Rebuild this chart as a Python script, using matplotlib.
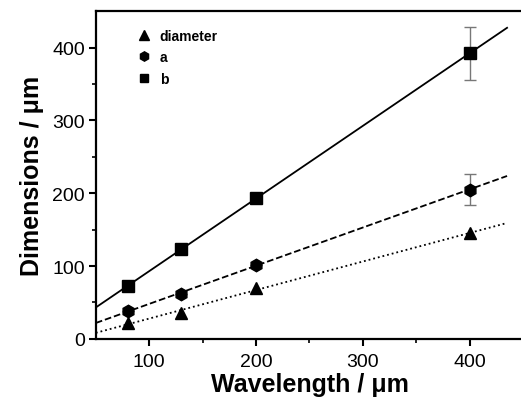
import numpy as np
import matplotlib.pyplot as plt

plt.rcParams['font.family'] = ['Liberation Sans', 'DejaVu Sans']

# data
wavelength = [80, 130, 200, 400]
diameter = [22, 35, 70, 145]
a_vals = [38, 62, 102, 205]
b_vals = [72, 124, 193, 392]
a_err = [0, 0, 0, 21]
b_err = [0, 0, 0, 36]

fig = plt.figure(figsize=(5.21, 4.06), dpi=100)
ax = fig.add_axes([0.184, 0.163, 0.82, 0.807])

# linear fits drawn from 50 to 435
xf = np.array([50, 435])
for y, ls in [(diameter, ':'), (a_vals, '--'), (b_vals, '-')]:
    k, c = np.polyfit(wavelength, y, 1)
    ax.plot(xf, k * xf + c, color='black', ls=ls, lw=1.3)

ax.errorbar(wavelength, a_vals, yerr=a_err, fmt='none', ecolor='#777777', elinewidth=1, capsize=4)
ax.errorbar(wavelength, b_vals, yerr=b_err, fmt='none', ecolor='#777777', elinewidth=1, capsize=4)

ax.plot(wavelength, diameter, '^', color='black', ms=9, ls='none', label='diameter')
ax.plot(wavelength, a_vals, 'h', color='black', ms=9, ls='none', label='a')
ax.plot(wavelength, b_vals, 's', color='black', ms=8, ls='none', label='b')

ax.set_xlim(50, 450)
ax.set_ylim(0, 450)
ax.set_xticks([100, 200, 300, 400])
ax.set_xticks([150, 250, 350], minor=True)
ax.set_yticks([0, 100, 200, 300, 400])
ax.set_yticks([50, 150, 250, 350], minor=True)
ax.tick_params(which='major', direction='out', length=5, width=1.5, labelsize=14)
ax.tick_params(axis='x', which='major', pad=5)
ax.tick_params(axis='y', which='major', pad=3)
ax.tick_params(which='minor', direction='out', length=3, width=1.2)
for s in ['left', 'bottom', 'top']:
    ax.spines[s].set_linewidth(1.6)
ax.spines['right'].set_visible(False)

ax.set_xlabel('Wavelength / μm', fontsize=18, fontweight='bold', labelpad=2)
ax.set_ylabel('Dimensions / μm', fontsize=18, fontweight='bold', labelpad=6)

leg = ax.legend(loc='upper left', frameon=False, prop={'size': 10, 'weight': 'bold'},
                bbox_to_anchor=(0.068, 0.985), handletextpad=0.6, labelspacing=0.55,
                handlelength=1, markerscale=0.75)

plt.savefig('out.png', dpi=100)
